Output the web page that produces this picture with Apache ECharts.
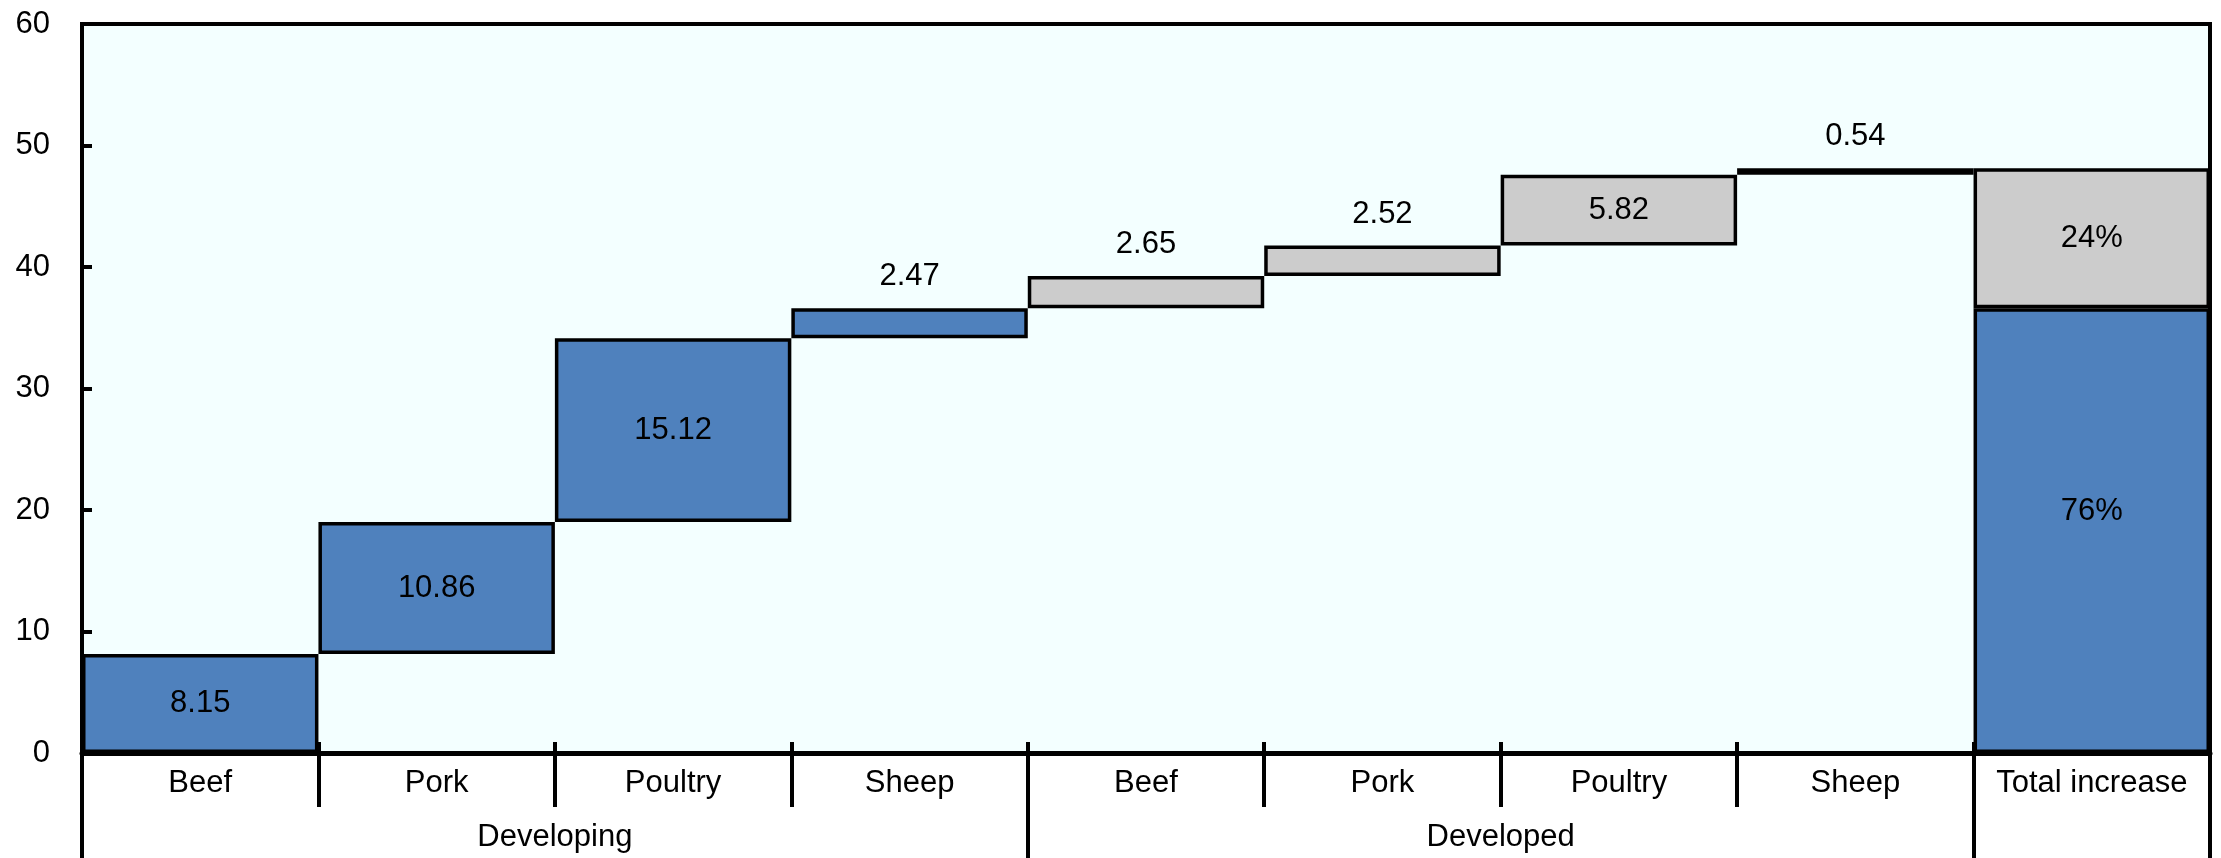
<!DOCTYPE html>
<html>
<head>
<meta charset="utf-8">
<script src="https://cdn.jsdelivr.net/npm/echarts@6/dist/echarts.min.js"></script>
<style>
  html, body { margin: 0; padding: 0; background: #ffffff; }
  #chart { width: 2221px; height: 858px; }
</style>
</head>
<body>
<div id="chart"></div>
<script>
// Contributions to the increase in meat consumption (waterfall)
const categories = ['Beef', 'Pork', 'Poultry', 'Sheep', 'Beef', 'Pork', 'Poultry', 'Sheep', 'Total increase'];
const groupNames = ['Developing', 'Developed'];
const developingValues = [8.15, 10.86, 15.12, 2.47];
const developedValues = [2.65, 2.52, 5.82, 0.54];
const yTicks = [0, 10, 20, 30, 40, 50, 60];

const FONT = "'Liberation Sans Narrow', 'Arial Narrow', 'Liberation Sans', Arial, sans-serif";
const FS = 31;
const BLUE = '#4F81BD';
const GREY = '#CCCCCC';

// running totals for the floating bases
const steps = developingValues.concat(developedValues);
const bases = [];
let running = 0;
steps.forEach(v => { bases.push(+running.toFixed(2)); running += v; });
const developingTotal = +developingValues.reduce((a, b) => a + b, 0).toFixed(2);
const developedTotal = +developedValues.reduce((a, b) => a + b, 0).toFixed(2);
const grandTotal = developingTotal + developedTotal;
const devPct = Math.round(developingTotal / grandTotal * 100);
const dvdPct = 100 - devPct;

const labelAbove = { show: true, position: 'top', distance: 16 };
const labelInside = { show: true, position: 'inside' };
const SMALL = 4; // steps below this get their label above the bar

const baseData = bases.concat([0]);
const developingData = categories.map((c, i) => {
  if (i < 4) {
    return { value: developingValues[i], label: developingValues[i] < SMALL ? labelAbove : labelInside };
  }
  if (i === 8) {
    return { value: developingTotal, label: { show: true, position: 'inside', offset: [0, -19], formatter: devPct + '%' } };
  }
  return '-';
});
const developedData = categories.map((c, i) => {
  if (i >= 4 && i < 8) {
    const v = developedValues[i - 4];
    return { value: v, label: v < SMALL ? labelAbove : labelInside };
  }
  if (i === 8) {
    return { value: developedTotal, label: { show: true, position: 'inside', formatter: dvdPct + '%' } };
  }
  return '-';
});

const chart = echarts.init(document.getElementById('chart'), null, { renderer: 'canvas' });

const barStyle = color => ({ color: color, borderColor: '#000', borderWidth: 3.5 });
const labelText = { color: '#000', fontFamily: FONT, fontSize: FS };

chart.setOption({
  animation: false,
  backgroundColor: '#ffffff',
  grid: {
    left: 82, right: 11, top: 24, bottom: 105,
    show: true, backgroundColor: '#F3FFFF', borderColor: '#000', borderWidth: 4
  },
  xAxis: [
    {
      type: 'category', data: categories, position: 'bottom',
      axisLine: { show: true, lineStyle: { color: '#000', width: 5 } },
      axisTick: { show: true, interval: 0, length: 54, lineStyle: { color: '#000', width: 4 } },
      axisLabel: { interval: 0, margin: 15, color: '#000', fontFamily: FONT, fontSize: FS },
      splitLine: { show: false }
    },
    {
      type: 'category', data: categories, position: 'bottom',
      axisLine: { show: false },
      axisTick: { show: true, inside: true, interval: 0, length: 11, lineStyle: { color: '#000', width: 4 } },
      axisLabel: { show: false },
      splitLine: { show: false }
    },
    {
      type: 'value', min: 0, max: categories.length, position: 'bottom',
      axisLine: { show: false },
      axisTick: { show: true, customValues: [0, 4, 8, 9], length: 110, lineStyle: { color: '#000', width: 4 } },
      axisLabel: {
        show: true, customValues: [2, 6], margin: 69, color: '#000', fontFamily: FONT, fontSize: FS,
        formatter: v => (v === 2 ? groupNames[0] : v === 6 ? groupNames[1] : '')
      },
      splitLine: { show: false }
    }
  ],
  yAxis: {
    type: 'value', min: yTicks[0], max: yTicks[yTicks.length - 1], interval: 10,
    axisLine: { show: true, lineStyle: { color: '#000', width: 4 } },
    axisTick: { show: true, inside: true, length: 10, lineStyle: { color: '#000', width: 4 } },
    axisLabel: { margin: 32, color: '#000', fontFamily: FONT, fontSize: FS },
    splitLine: { show: false }
  },
  series: [
    {
      name: 'base', type: 'bar', stack: 'wf', xAxisIndex: 0, barWidth: '100%',
      itemStyle: { color: 'transparent', borderColor: 'transparent' },
      emphasis: { disabled: true }, silent: true,
      data: baseData
    },
    {
      name: 'Developing', type: 'bar', stack: 'wf', xAxisIndex: 0, barWidth: '100%',
      itemStyle: barStyle(BLUE), label: labelText,
      data: developingData
    },
    {
      name: 'Developed', type: 'bar', stack: 'wf', xAxisIndex: 0, barWidth: '100%',
      itemStyle: barStyle(GREY), label: labelText,
      data: developedData
    }
  ]
});
</script>
</body>
</html>
